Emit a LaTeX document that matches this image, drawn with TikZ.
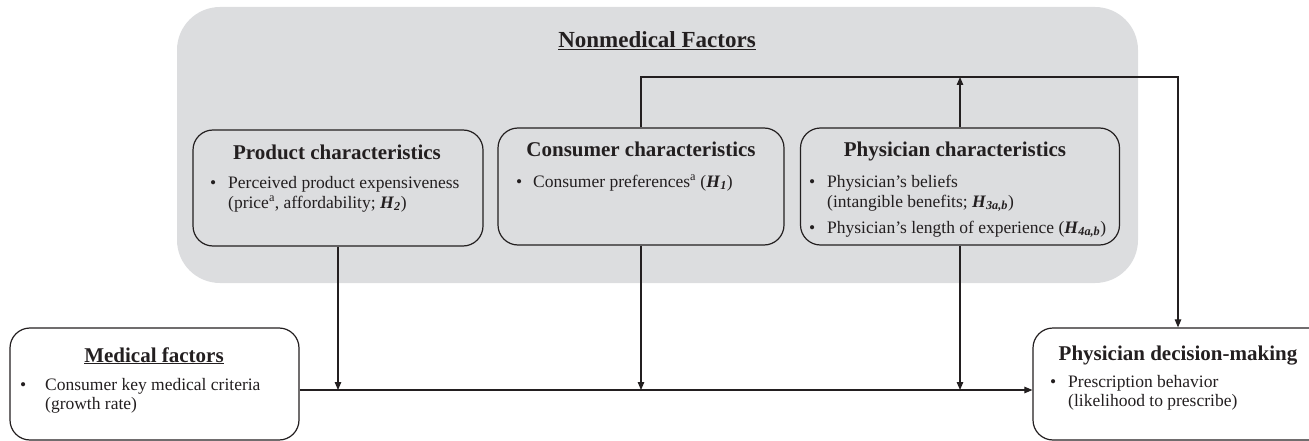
\documentclass[tikz,border=0pt]{standalone}
\usepackage{fontspec}
\setmainfont{Liberation Serif}
\usetikzlibrary{arrows.meta}
\definecolor{bg}{RGB}{220,221,223}
\definecolor{ink}{RGB}{35,31,32}
\newcommand\HH[1]{\textbf{\textit{H}}\textsubscript{\textbf{\textit{#1}}}}
\begin{document}
\begin{tikzpicture}[x=1pt,y=-1pt,
 box/.style={draw=ink,line width=1.2pt,rounded corners=20pt,inner sep=0pt},
 conn/.style={draw=ink,line width=1.1pt},
 arr/.style={conn,-{Triangle[length=8pt,width=6.5pt]}},
 ttl/.style={font=\fontsize{21}{24}\selectfont\bfseries,text=ink,inner sep=0pt,anchor=base},
 txt/.style={font=\fontsize{17.5}{20}\selectfont,text=ink,inner sep=0pt,anchor=base west},
 ]
\useasboundingbox (0,0) rectangle (1309,441);
\fill[bg,rounded corners=43pt] (177,7) rectangle (1138,283);

% boxes
\node[box,minimum width=290pt,minimum height=116pt] (prod) at (338,188) {};
\node[box,minimum width=286pt,minimum height=117pt] (cons) at (641,186.5) {};
\node[box,minimum width=319pt,minimum height=117pt] (phys) at (960,186.5) {};
\node[box,minimum width=289pt,minimum height=112pt] (med) at (154.5,384) {};
\node[box,minimum width=310pt,minimum height=112pt] (dec) at (1188,384) {};

% texts
\node[ttl,font=\fontsize{23}{26}\selectfont\bfseries] (nonT) at (657,48) {\underline{Nonmedical Factors}};

\node[ttl] (prodT) at (337,160) {Product characteristics};
\node[txt] (prodB) at (210,188) {•};
\node[txt] (prodL1) at (228,188) {Perceived product expensiveness};
\node[txt] (prodL2) at (228,208) {(price\textsuperscript{a}, affordability; \HH{2})};

\node[ttl] (consT) at (641,157) {Consumer characteristics};
\node[txt] (consB) at (516,187) {•};
\node[txt] (consL1) at (533,187) {Consumer preferences\textsuperscript{a} (\HH{1})};

\node[ttl] (physT) at (955,157) {Physician characteristics};
\node[txt] (physB1) at (809,187) {•};
\node[txt] (physL1) at (827,187) {Physician’s beliefs};
\node[txt] (physL2) at (827,207) {(intangible benefits; \HH{3a,b})};
\node[txt] (physB2) at (809,233) {•};
\node[txt] (physL3) at (827,233) {Physician’s length of experience (\HH{4a,b})};

\node[ttl] (medT) at (154,362) {\underline{Medical factors}};
\node[txt] (medB) at (20,390) {•};
\node[txt] (medL1) at (45,390) {Consumer key medical criteria};
\node[txt] (medL2) at (45,409) {(growth rate)};

\node[ttl] (decT) at (1178,360) {Physician decision-making};
\node[txt] (decB) at (1050,387) {•};
\node[txt] (decL1) at (1068,387) {Prescription behavior};
\node[txt] (decL2) at (1068,406) {(likelihood to prescribe)};

% connectors
\coordinate (top) at (1178,77);
\coordinate (mainy) at (0,390);
\draw[arr] (cons.north) |- (top) -- (top |- dec.north);
\draw[arr] (phys.north) -- (phys.north |- top);
\draw[arr] (prod.south) -- (prod.south |- mainy);
\draw[arr] (cons.south) -- (cons.south |- mainy);
\draw[arr] (phys.south) -- (phys.south |- mainy);
\draw[arr] (med.east |- mainy) -- (dec.west |- mainy);
\end{tikzpicture}
\end{document}
